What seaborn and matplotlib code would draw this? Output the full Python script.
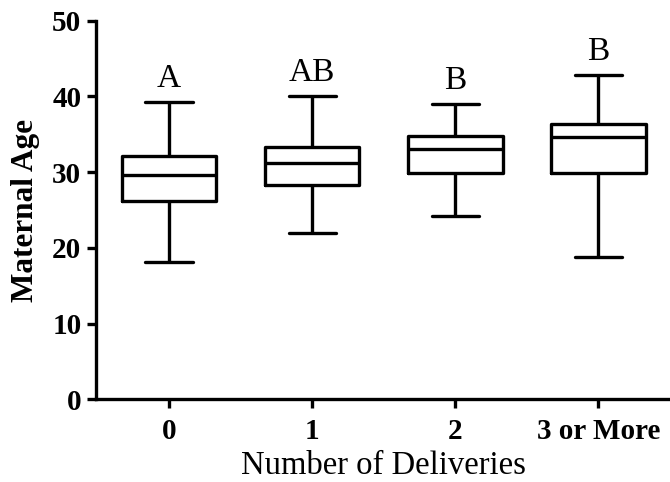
import matplotlib
matplotlib.use("Agg")
import matplotlib.pyplot as plt
import seaborn as sns
import pandas as pd

categories = ["0", "1", "2", "3 or More"]
whisker_low = [18.1, 21.9, 24.25, 18.85]
q1_values = [26.15, 28.25, 29.85, 29.95]
medians = [29.65, 31.25, 33.0, 34.6]
q3_values = [32.1, 33.35, 34.8, 36.35]
whisker_high = [39.3, 40.1, 39.0, 42.8]
letters = ["A", "AB", "B", "B"]

rows = []
for c, lo, a, m, b, hi in zip(categories, whisker_low, q1_values, medians, q3_values, whisker_high):
    for v in (lo, a, m, b, hi):
        rows.append({"Number of Deliveries": c, "Maternal Age": v})
df = pd.DataFrame(rows)

sns.set_style("ticks")
plt.rcParams["font.family"] = ["Liberation Serif", "DejaVu Serif"]
plt.rcParams["text.color"] = "black"
plt.rcParams["axes.labelcolor"] = "black"
plt.rcParams["xtick.color"] = "black"
plt.rcParams["ytick.color"] = "black"

fig = plt.figure(figsize=(6.7, 4.82), dpi=100)
ax = fig.add_axes([96 / 670, (482 - 399.3) / 482, 1 - 96 / 670, (399.3 - 20.7) / 482])

lw = 2.4
sns.boxplot(data=df, x="Number of Deliveries", y="Maternal Age", order=categories,
            whis=(0, 100), width=0.66, fill=False, color="black", linecolor="black",
            linewidth=lw, ax=ax)

for i, (hi, t) in enumerate(zip(whisker_high, letters)):
    ax.text(i, hi + 2.0, t, ha="center", va="baseline", fontsize=24, color="black")

ax.set_ylim(0, 50)
ax.set_xlim(-0.51, 3.5)
ax.set_yticks([0, 10, 20, 30, 40, 50])
for s in ("top", "right"):
    ax.spines[s].set_visible(False)
for s in ("left", "bottom"):
    ax.spines[s].set_linewidth(lw)
    ax.spines[s].set_color("black")
ax.tick_params(axis="both", direction="out", length=6.5, width=lw, colors="black",
               labelsize=21)
ax.tick_params(axis="x", pad=7)
ax.tick_params(axis="y", pad=4)
for lab in ax.get_xticklabels() + ax.get_yticklabels():
    lab.set_fontweight("bold")
ax.set_ylabel("Maternal Age", fontsize=22.5, fontweight="bold", labelpad=9)
ax.set_xlabel("Number of Deliveries", fontsize=23.5, labelpad=4)

fig.savefig("out.png", dpi=100)
